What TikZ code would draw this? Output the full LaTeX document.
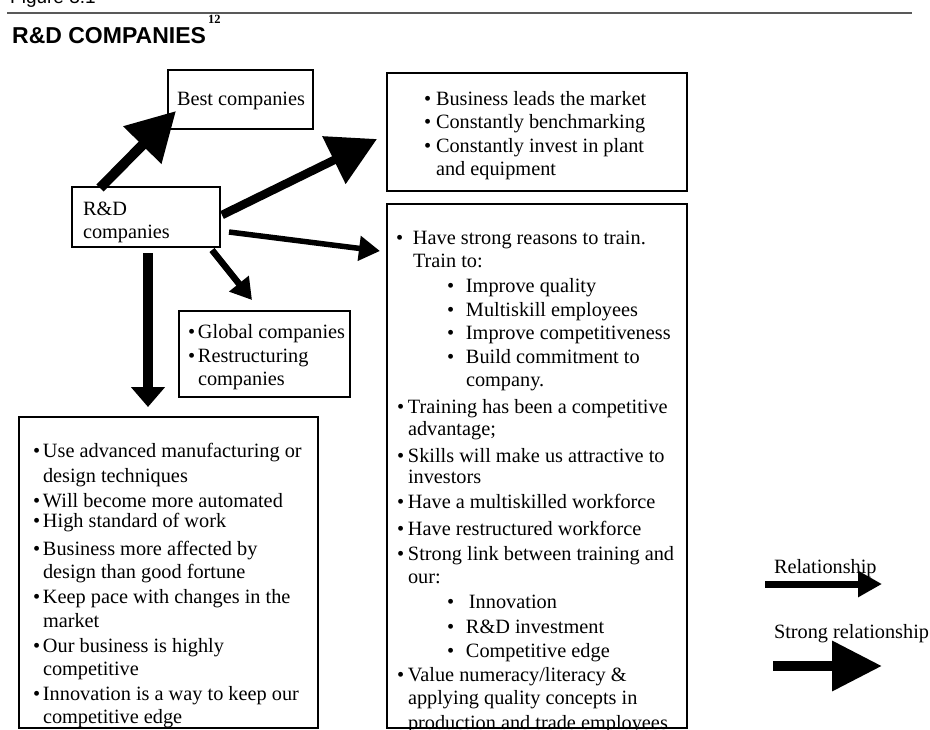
\documentclass[tikz,border=0pt]{standalone}
\usepackage{fontspec}
\setmainfont{Liberation Serif}
\newfontfamily\arialf{Liberation Sans}
\usetikzlibrary{arrows.meta,calc}
\newcommand\bul[1]{\makebox[#1pt][l]{•}}
\begin{document}
\begin{tikzpicture}[x=1pt,y=-1pt,
  box/.style={draw,line width=2pt,anchor=north west,inner sep=0pt,outer sep=0pt},
  txt/.style={anchor=base west,inner sep=0pt,outer sep=0pt,font=\fontsize{20.3}{23}\selectfont},
  strongarr/.style={line width=#1,-{Triangle[length=48pt,width=51pt]}},
  relarr/.style={line width=#1,-{Triangle[length=21pt,width=24pt]}},
]
\useasboundingbox (0,0) rectangle (930,729);
\clip (0,0) rectangle (930,729);

% header
\node[anchor=base west,inner sep=0pt,font=\arialf\fontsize{19}{22}\selectfont] (fig) at (10,3) {Figure 3.1};
\coordinate (ruleL) at (7,13);
\coordinate (ruleR) at (912,13);
\draw[line width=2pt,color=black!65] (ruleL) -- (ruleR);
\node[anchor=base west,inner sep=0pt,font=\arialf\bfseries\fontsize{23}{26}\selectfont] (title) at (12,43) {R\&D COMPANIES};
\node[anchor=base west,inner sep=0pt,font=\bfseries\fontsize{12.5}{14}\selectfont] (sup) at (208,23) {12};

% boxes
\node[box,minimum width=145pt,minimum height=59pt] (best) at (168,70) {};
\node[box,minimum width=148pt,minimum height=60pt] (rd) at (72,187) {};
\node[box,minimum width=300pt,minimum height=118pt] (tr) at (387,73) {};
\node[box,minimum width=300pt,minimum height=524pt] (bb) at (387,204) {};
\node[box,minimum width=171pt,minimum height=86pt] (gb) at (179,311) {};
\node[box,minimum width=299pt,minimum height=311pt] (bl) at (19,417) {};

% box texts
\node[txt] (bestt) at (177,105) {Best companies};
\node[txt] (rdt1) at (83,215) {R\&D};
\node[txt] (rdt2) at (83,238) {companies};

\node[txt] (tr1) at (424,105) {\bul{12}Business leads the market};
\node[txt] (tr2) at (424,128) {\bul{12}Constantly benchmarking};
\node[txt] (tr3) at (424,152) {\bul{12}Constantly invest in plant};
\node[txt] (tr4) at (436,175) {and equipment};

\node[txt] (bb1) at (396,244) {\bul{17}Have strong reasons to train.};
\node[txt] (bb2) at (413,267) {Train to:};
\node[txt] (bb3) at (447,292) {\bul{19}Improve quality};
\node[txt] (bb4) at (447,316) {\bul{19}Multiskill employees};
\node[txt] (bb5) at (447,339) {\bul{19}Improve competitiveness};
\node[txt] (bb6) at (447,363) {\bul{19}Build commitment to};
\node[txt] (bb7) at (466,386) {company.};
\node[txt] (bb8) at (397,413) {\bul{11}Training has been a competitive};
\node[txt] (bb9) at (408,435) {advantage;};
\node[txt] (bb10) at (397,462) {\bul{11}Skills will make us attractive to};
\node[txt] (bb11) at (408,483) {investors};
\node[txt] (bb12) at (397,508) {\bul{11}Have a multiskilled workforce};
\node[txt] (bb13) at (397,535) {\bul{11}Have restructured workforce};
\node[txt] (bb14) at (397,560) {\bul{11}Strong link between training and};
\node[txt] (bb15) at (408,583) {our:};
\node[txt] (bb16) at (447,608) {\bul{22}Innovation};
\node[txt] (bb17) at (447,633) {\bul{19}R\&D investment};
\node[txt] (bb18) at (447,657) {\bul{19}Competitive edge};
\node[txt] (bb19) at (397,681) {\bul{11}Value numeracy/literacy \&};
\node[txt] (bb20) at (408,704) {applying quality concepts in};
\node[txt] (bb21) at (408,729) {production and trade employees};

\node[txt] (gb1) at (188,338) {\bul{10}Global companies};
\node[txt] (gb2) at (188,362) {\bul{10}Restructuring};
\node[txt] (gb3) at (198,385) {companies};

\node[txt] (bl1) at (33,457) {\bul{10}Use advanced manufacturing or};
\node[txt] (bl2) at (43,482) {design techniques};
\node[txt] (bl3) at (33,507) {\bul{10}Will become more automated};
\node[txt] (bl4) at (33,527) {\bul{10}High standard of work};
\node[txt] (bl5) at (33,555) {\bul{10}Business more affected by};
\node[txt] (bl6) at (43,578) {design than good fortune};
\node[txt] (bl7) at (33,603) {\bul{10}Keep pace with changes in the};
\node[txt] (bl8) at (43,627) {market};
\node[txt] (bl9) at (33,652) {\bul{10}Our business is highly};
\node[txt] (bl10) at (43,675) {competitive};
\node[txt] (bl11) at (33,700) {\bul{10}Innovation is a way to keep our};
\node[txt] (bl12) at (43,723) {competitive edge};

% redraw bottom edge over clipped text
\draw[line width=2pt] (bb.south west) -- (bb.south east);

% connectors
\draw[strongarr=10pt] ($(rd.north west)+(28,1)$) -- ($(best.south west)+(8,-18)$);
\draw[strongarr=8.5pt] ($(rd.east)+(2,-2)$) -- ($(tr.south west)+(-10,-52)$);
\draw[relarr=5.5pt] ($(rd.east)+(9,15)$) -- ($(bb.north west)+(-7,47)$);
\draw[relarr=6.5pt] ($(rd.south east)+(-8,3)$) -- ($(gb.north west)+(73,-11)$);
\draw[line width=9.5pt,-{Triangle[length=20pt,width=33pt]}] ($(rd.south west)+(76,6)$) -- ($(bl.north west)+(129,-10)$);

% legend
\node[txt] (lrel) at (774,573) {Relationship};
\node[txt] (lstr) at (774,638) {Strong relationship};
\coordinate (l1a) at (765,584);
\coordinate (l1b) at (882,584);
\coordinate (l2a) at (773,666);
\coordinate (l2b) at (882,666);
\draw[line width=7pt,-{Triangle[length=24pt,width=25pt]}] (l1a) -- (l1b);
\draw[line width=10pt,-{Triangle[length=50pt,width=48pt]}] (l2a) -- (l2b);
\end{tikzpicture}
\end{document}
